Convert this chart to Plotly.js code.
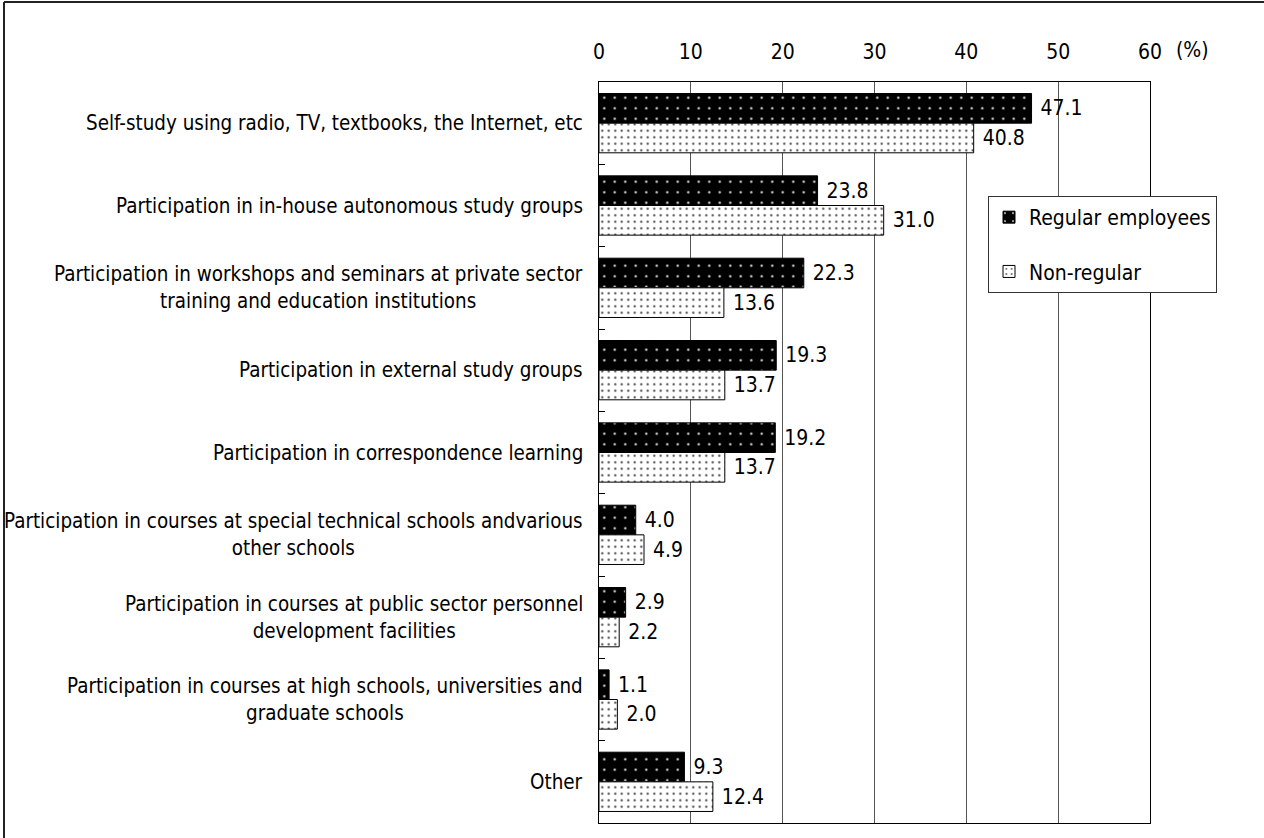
<!DOCTYPE html>
<html>
<head>
<meta charset="utf-8">
<script src="https://cdn.plot.ly/plotly-3.0.1.min.js"></script>
<style>
  html, body { margin: 0; padding: 0; background: #fff; }
  #chart { width: 1264px; height: 838px; }
</style>
</head>
<body>
<div id="chart"></div>
<script>
// Ways of self-development, by employment type (%)
const categories = [
  "Self-study using radio, TV, textbooks, the Internet, etc",
  "Participation in in-house autonomous study groups",
  "Participation in workshops and seminars at private sector<br>training and education institutions",
  "Participation in external study groups",
  "Participation in correspondence learning",
  "Participation in courses at special technical schools andvarious<br>other schools",
  "Participation in courses at public sector personnel<br>development facilities",
  "Participation in courses at high schools, universities and<br>graduate schools",
  "Other"
];
const regularEmployees = [47.1, 23.8, 22.3, 19.3, 19.2, 4.0, 2.9, 1.1, 9.3];
const nonRegularEmployees = [40.8, 31.0, 13.6, 13.7, 13.7, 4.9, 2.2, 2.0, 12.4];
const seriesNames = ["Regular employees", "Non-regular"];
const xTickValues = [0, 10, 20, 30, 40, 50, 60];
const unitLabel = "(%)";

const W = 1264, H = 838;
const M = { l: 599, r: 114, t: 82, b: 15 };
const plotW = W - M.l - M.r, plotH = H - M.t - M.b;
const px2paperX = px => (px - M.l) / plotW;
const px2paperY = py => (H - M.b - py) / plotH;

const FONT = '"DejaVu Sans Condensed", "Liberation Sans Narrow", "Noto Sans CJK JP", sans-serif';
const FS = 21;
const LABEL_FS = 20.4;

const traces = [
  {
    type: 'bar', orientation: 'h', name: seriesNames[0], legendgroup: 'a',
    y: categories, x: regularEmployees,
    marker: {
      color: '#000',
      line: { color: '#000', width: 1 },
      pattern: { shape: '.', bgcolor: '#000', fgcolor: '#ddd', size: 10.5, solidity: 0.04, fillmode: 'replace' }
    },
    texttemplate: '\u00a0%{x:.1f}', textposition: 'outside', cliponaxis: false,
    constraintext: 'none',
    textfont: { family: FONT, size: FS, color: '#000' },
    hoverinfo: 'x+name'
  },
  {
    type: 'bar', orientation: 'h', name: seriesNames[1], legendgroup: 'b',
    y: categories, x: nonRegularEmployees,
    marker: {
      color: '#fff',
      line: { color: '#000', width: 1 },
      pattern: { shape: '.', bgcolor: '#fff', fgcolor: '#444', size: 6.5, solidity: 0.09, fillmode: 'replace' }
    },
    texttemplate: '\u00a0%{x:.1f}', textposition: 'outside', cliponaxis: false,
    constraintext: 'none',
    textfont: { family: FONT, size: FS, color: '#000' },
    hoverinfo: 'x+name'
  }
];

// category labels, centred line by line and right-aligned to the axis
const labelAnnotations = categories.map(c => ({
  xref: 'paper', yref: 'y', x: px2paperX(585), y: c,
  xanchor: 'right', yanchor: 'middle', align: 'center',
  text: c, showarrow: false,
  font: { family: FONT, size: LABEL_FS, color: '#000' }
}));

const layout = {
  width: W, height: H,
  margin: M,
  paper_bgcolor: '#fff', plot_bgcolor: '#fff',
  font: { family: FONT, size: FS, color: '#000' },
  barmode: 'group', bargap: 0.28, bargroupgap: 0,
  xaxis: {
    side: 'top', range: [0, 60], tickvals: xTickValues,
    showgrid: true, gridcolor: '#555', gridwidth: 1,
    zeroline: false, showline: true, linecolor: '#000', linewidth: 1, mirror: true,
    ticks: '', ticklabelstandoff: 14,
    tickfont: { family: FONT, size: FS, color: '#000' }
  },
  yaxis: {
    type: 'category', categoryorder: 'array', categoryarray: categories,
    autorange: 'reversed', showticklabels: false,
    ticks: 'inside', tickson: 'boundaries', ticklen: 6, tickcolor: '#000',
    showgrid: false, zeroline: false,
    showline: true, linecolor: '#000', linewidth: 1, mirror: true
  },
  showlegend: true,
  legend: {
    x: px2paperX(988), xanchor: 'left', y: px2paperY(196), yanchor: 'top',
    bgcolor: '#fff', bordercolor: '#333', borderwidth: 1,
    tracegroupgap: 24, traceorder: 'grouped',
    font: { family: FONT, size: FS, color: '#000' },
    itemwidth: 30
  },
  annotations: labelAnnotations.concat([{
    xref: 'paper', yref: 'paper', x: px2paperX(1174), y: px2paperY(50),
    xanchor: 'left', yanchor: 'middle', text: unitLabel, showarrow: false,
    font: { family: FONT, size: FS, color: '#000' }
  }]),
  shapes: [
    { type: 'line', xref: 'paper', yref: 'paper',
      x0: px2paperX(4), x1: px2paperX(4), y0: px2paperY(H + 5), y1: px2paperY(2),
      line: { color: '#222', width: 2 } },
    { type: 'line', xref: 'paper', yref: 'paper',
      x0: px2paperX(4), x1: px2paperX(W + 5), y0: px2paperY(2), y1: px2paperY(2),
      line: { color: '#222', width: 2 } }
  ]
};

Plotly.newPlot('chart', traces, layout, { displayModeBar: false, staticPlot: true });
</script>
</body>
</html>
